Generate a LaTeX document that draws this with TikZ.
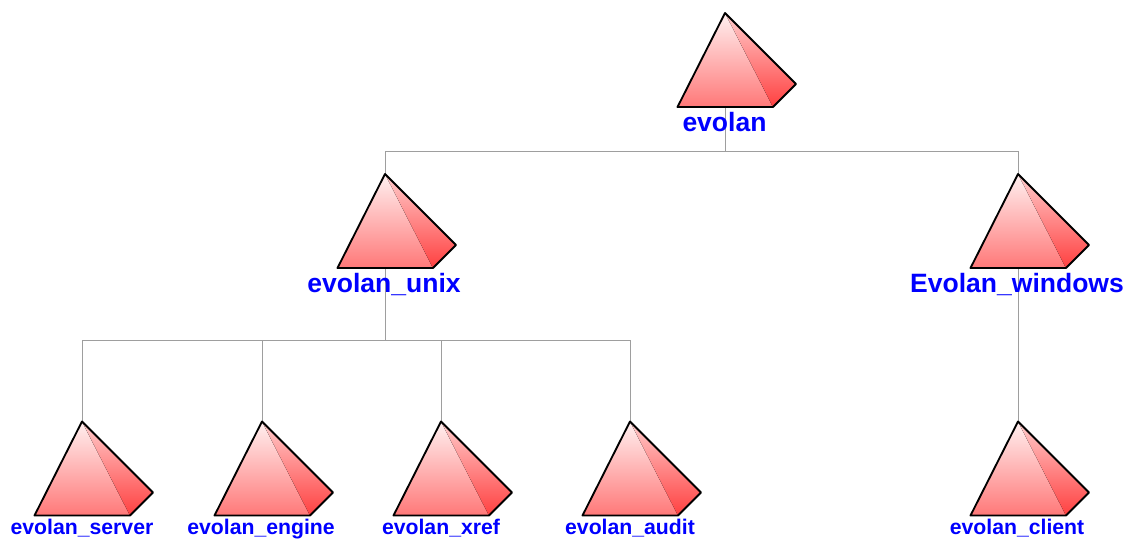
\documentclass[tikz,border=0pt]{standalone}
\usepackage{fontspec}
\setmainfont{Liberation Sans}
\usetikzlibrary{calc}
\definecolor{faceltop}{HTML}{FFF0F0}
\definecolor{facelbot}{HTML}{FF7878}
\definecolor{facertop}{HTML}{FFCCCC}
\definecolor{facerbot}{HTML}{FF4040}
\tikzset{
  link/.style={draw=black!38,line width=0.75pt},
  face/.style={draw=none},
  edge/.style={draw=black,line width=1.4pt,line join=round},
  bigname/.style={color=blue,anchor=base,font={\fontsize{20pt}{22pt}\selectfont\bfseries},inner sep=0pt},
  smallname/.style={color=blue,anchor=base,font={\fontsize{16pt}{18pt}\selectfont\bfseries},inner sep=0pt}
}
\newcommand{\pyramid}[1]{%
\fill[face,top color=faceltop,bottom color=facelbot] (#1) -- ++(-47.5,94) -- ++(95.5,0) -- cycle;
\fill[face,top color=facertop,bottom color=facerbot] (#1) -- ++(48,94) -- ++(23,-23) -- cycle;
\draw[edge] (#1) -- ++(-47.5,94) -- ++(95.5,0) -- ++(23,-23) -- cycle;
}
\begin{document}
\begin{tikzpicture}[x=0.0265cm,y=-0.0265cm]
\useasboundingbox (0,0) rectangle (1130,539);
\coordinate (evolan) at (725,13);
\coordinate (evolanb) at (725,107);
\coordinate (unix) at (385,174);
\coordinate (unixb) at (385,268);
\coordinate (windows) at (1018,174);
\coordinate (windowsb) at (1018,268);
\coordinate (server) at (82,421.5);
\coordinate (engine) at (262,421.5);
\coordinate (xref) at (441,421.5);
\coordinate (audit) at (630,421.5);
\coordinate (client) at (1018,421.5);
% tree lines
\draw[link] (evolanb) -- ++(0,44) -| (unix);
\draw[link] (evolanb) -- ++(0,44) -| (windows);
\draw[link] (unixb) -- ++(0,72) -| (server);
\draw[link] (unixb) -- ++(0,72) -| (engine);
\draw[link] (unixb) -- ++(0,72) -| (xref);
\draw[link] (unixb) -- ++(0,72) -| (audit);
\draw[link] (windowsb) -- (client);
% pyramids
\pyramid{evolan}
\pyramid{unix}
\pyramid{windows}
\pyramid{server}
\pyramid{engine}
\pyramid{xref}
\pyramid{audit}
\pyramid{client}
% names
\node[bigname] (evolanname) at (724.5,132) {evolan};
\node[bigname] (unixname) at (384,292) {evolan\_unix};
\node[bigname] (windowsname) at (1017,292) {Evolan\_windows};
\node[smallname] (servername) at (82,534.5) {evolan\_server};
\node[smallname] (enginename) at (261,534.5) {evolan\_engine};
\node[smallname] (xrefname) at (441,534.5) {evolan\_xref};
\node[smallname] (auditname) at (630,534.5) {evolan\_audit};
\node[smallname] (clientname) at (1017,534.5) {evolan\_client};
\end{tikzpicture}
\end{document}
